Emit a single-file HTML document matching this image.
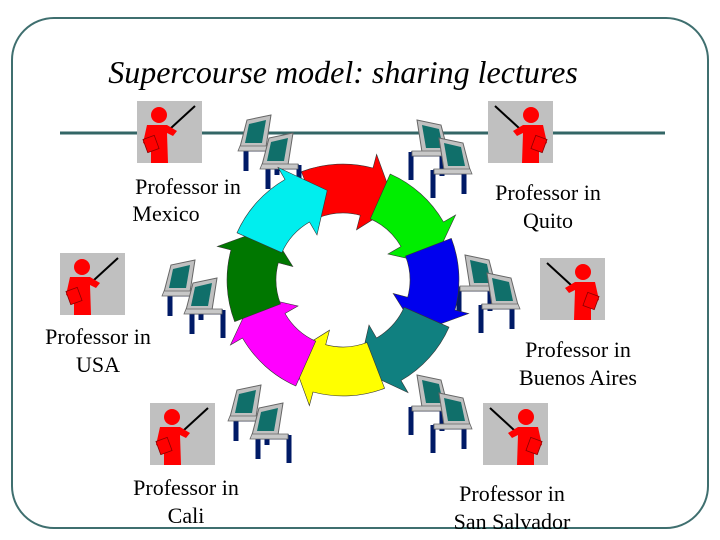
<!DOCTYPE html>
<html><head><meta charset="utf-8"><style>
html,body{margin:0;padding:0;background:#fff;}
svg{display:block;}
text{font-family:"Liberation Serif",serif;}
</style></head><body>
<svg width="720" height="540" viewBox="0 0 720 540" xmlns="http://www.w3.org/2000/svg">
<defs>
<g id="prof">
 <rect x="0" y="0" width="65" height="62" fill="#c0c0c0"/>
 <line x1="34" y1="27" x2="58" y2="5" stroke="#000" stroke-width="2"/>
 <circle cx="22" cy="14" r="8" fill="#f00"/>
 <path d="M10 24 L30 24 L40 30 L36 35 L30 32 L31 62 L14 62 L14 46 L6 42 Z" fill="#f00"/>
 <rect x="8" y="36" width="12" height="14" fill="#f00" stroke="#800" stroke-width="0.8" transform="rotate(-20 14 43)"/>
</g>
<g id="ws">
 <path d="M3 34 L3 62 M3 36 L34 36 L34 58" stroke="#001a66" stroke-width="5" fill="none"/>
 <path d="M9 2 L33 7 L40 34 L14 34 Z" fill="#c0c0c0" stroke="#666" stroke-width="1"/>
 <path d="M14 7 L31 11 L35 30 L18 30 Z" fill="#106f6a"/>
 <path d="M4 33 L40 33 L42 38 L4 38 Z" fill="#c8c8c8" stroke="#666" stroke-width="0.8"/>
</g>
<g id="wsm"><g transform="translate(42,0) scale(-1,1)"><use href="#ws"/></g></g>
<g id="pair">
 <use href="#ws" x="0" y="0"/>
 <use href="#ws" x="22" y="18"/>
</g>
<g id="pairm">
 <use href="#wsm" x="0" y="0"/>
 <use href="#wsm" x="22" y="18"/>
</g>
</defs>
<rect x="12" y="18" width="696" height="510" rx="42" ry="42" fill="none" stroke="#3f6f6f" stroke-width="2"/>
<text x="343" y="83" text-anchor="middle" font-size="32" font-style="italic">Supercourse model:  sharing lectures</text>
<line x1="60" y1="133" x2="665" y2="133" stroke="#336666" stroke-width="3"/>
<use href="#prof" x="137" y="101"/>
<g transform="translate(553,101) scale(-1,1)"><use href="#prof"/></g>
<use href="#prof" x="60" y="253"/>
<g transform="translate(605,258) scale(-1,1)"><use href="#prof"/></g>
<use href="#prof" x="150" y="403"/>
<g transform="translate(548,403) scale(-1,1)"><use href="#prof"/></g>
<use href="#pairm" x="238" y="113"/>
<use href="#pair" x="408" y="118"/>
<use href="#pair" x="456" y="253"/>
<use href="#pairm" x="162" y="258"/>
<use href="#pairm" x="228" y="383"/>
<use href="#pair" x="408" y="373"/>
<g id="ring"></g>
<g font-size="22" text-anchor="middle">
<text x="188" y="194">Professor in</text><text x="166" y="221">Mexico</text>
<text x="548" y="200">Professor in</text><text x="548" y="228">Quito</text>
<text x="98" y="344">Professor in</text><text x="98" y="372">USA</text>
<text x="578" y="357">Professor in</text><text x="578" y="385">Buenos Aires</text>
<text x="186" y="495">Professor in</text><text x="186" y="523">Cali</text>
<text x="512" y="501">Professor in</text><text x="512" y="529">San Salvador</text>
</g>
</svg>
<script>
(function(){
var cx=343,cy=280,ri=67,ro=116,hi=52,ho=130,rm=91;
var cols=["#ff0000","#00ee00","#0000ee","#108080","#ffff00","#ff00ff","#007700","#00eeee"];
var start=-83,g=document.getElementById("ring"),s="";
function P(r,a){a=a*Math.PI/180;return (cx+r*Math.cos(a)).toFixed(1)+" "+(cy+r*Math.sin(a)).toFixed(1);}
for(var i=0;i<8;i++){
 var c=start+45*i,a0=c-28,a1=c+8,t=c+28;
 var d="M"+P(ro,a0)+" A"+ro+" "+ro+" 0 0 1 "+P(ro,a1)+" L"+P(ho,a1)+" L"+P(rm,t)+" L"+P(hi,a1)+" L"+P(ri,a1)+" A"+ri+" "+ri+" 0 0 0 "+P(ri,a0)+" Z";
 s+='<path d="'+d+'" fill="'+cols[i]+'" stroke="#333" stroke-width="0.6"/>';
}
g.innerHTML=s;
})();
</script>
</body></html>
